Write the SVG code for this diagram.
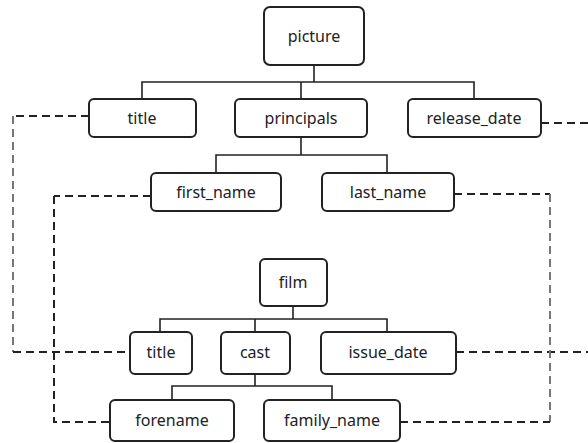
<svg xmlns="http://www.w3.org/2000/svg" width="588" height="443" viewBox="0 0 588 443">
<style>
.box{fill:#fff;stroke:#222;stroke-width:2}
.t{font-family:"Noto Sans","DejaVu Sans",sans-serif;font-size:16px;fill:#222;text-anchor:middle;dominant-baseline:central}
.ln{fill:none;stroke:#222;stroke-width:1.6}
.dh{fill:none;stroke:#222;stroke-width:2;stroke-dasharray:8 5}
.dv{fill:none;stroke:#777;stroke-width:2;stroke-dasharray:8 5}
</style>
<rect width="588" height="443" fill="#fff"/>
<g id="connectors">
<path class="ln" d="M314 65V82" stroke-width="3"/>
<path class="ln" d="M142 99V82H474V99M301 82V99"/>
<path class="ln" d="M301 137V155M216 173V155H387V173"/>
<path class="ln" d="M293 306V319M160 332V319H387V332M255 319V332"/>
<path class="ln" d="M255 374V386M172 400V386H332V400"/>
<path class="dh" d="M89 116H13"/>
<path class="dv" d="M13 116V352"/>
<path class="dh" d="M13 352H130"/>
<path class="dh" d="M541 123H588"/>
<path class="dh" d="M456 352H588"/>
<path class="dh" d="M151 196H54"/>
<path class="dh" d="M54 196V422H110"/>
<path class="dh" d="M454 194H550"/>
<path class="dv" d="M550 194V422"/>
<path class="dh" d="M400 422H550"/>
</g>
<g id="picture"><rect class="box" x="264" y="7" width="100" height="58" rx="6"/><text class="t" x="314" y="36">picture</text></g>
<g id="title1"><rect class="box" x="89" y="99" width="107" height="38" rx="5"/><text class="t" x="142" y="118">title</text></g>
<g id="principals"><rect class="box" x="235" y="99" width="132" height="38" rx="5"/><text class="t" x="301" y="118">principals</text></g>
<g id="release_date"><rect class="box" x="408" y="99" width="133" height="38" rx="5"/><text class="t" x="474" y="118">release_date</text></g>
<g id="first_name"><rect class="box" x="151" y="173" width="130" height="38" rx="5"/><text class="t" x="216" y="192">first_name</text></g>
<g id="last_name"><rect class="box" x="322" y="173" width="132" height="38" rx="5"/><text class="t" x="388" y="192">last_name</text></g>
<g id="film"><rect class="box" x="260" y="259" width="67" height="47" rx="5"/><text class="t" x="293" y="282">film</text></g>
<g id="title2"><rect class="box" x="130" y="332" width="62" height="42" rx="5"/><text class="t" x="161" y="352">title</text></g>
<g id="cast"><rect class="box" x="221" y="332" width="69" height="42" rx="5"/><text class="t" x="255" y="352">cast</text></g>
<g id="issue_date"><rect class="box" x="321" y="332" width="135" height="42" rx="5"/><text class="t" x="388" y="352">issue_date</text></g>
<g id="forename"><rect class="box" x="110" y="400" width="124" height="41" rx="5"/><text class="t" x="172" y="420">forename</text></g>
<g id="family_name"><rect class="box" x="264" y="400" width="136" height="41" rx="5"/><text class="t" x="332" y="420">family_name</text></g>
</svg>
